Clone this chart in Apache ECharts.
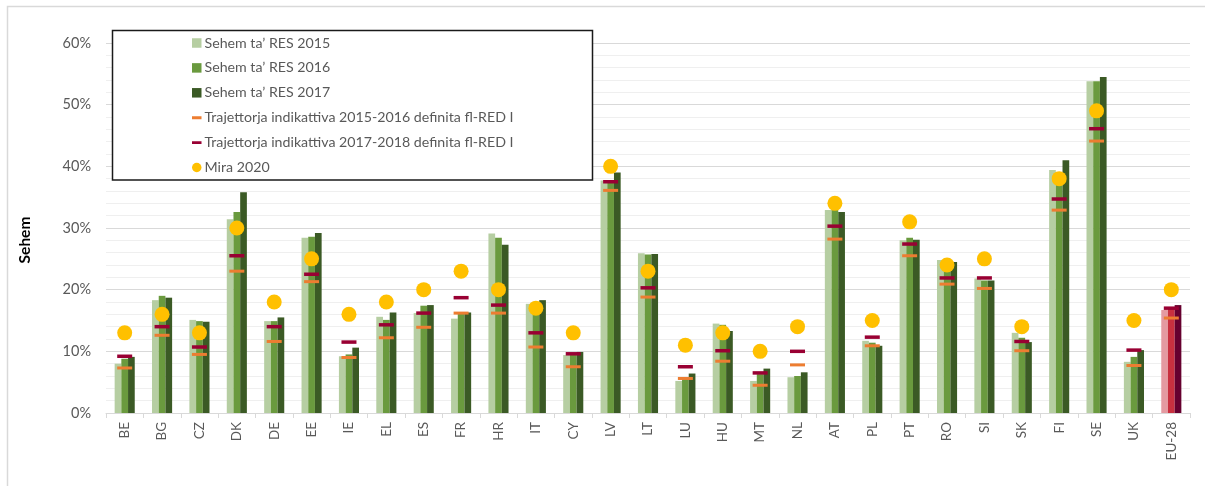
<!DOCTYPE html>
<html>
<head>
<meta charset="utf-8">
<script src="https://cdn.jsdelivr.net/npm/echarts@6/dist/echarts.min.js"></script>
<style>
html,body{margin:0;padding:0;background:#fff;}
#chart{width:1205px;height:486px;}
</style>
</head>
<body>
<div id="chart"></div>
<script>
const categories = ['BE','BG','CZ','DK','DE','EE','IE','EL','ES','FR','HR','IT','CY','LV','LT','LU','HU','MT','NL','AT','PL','PT','RO','SI','SK','FI','SE','UK','EU-28'];
const res2015 = [8.0, 18.3, 15.1, 31.4, 14.9, 28.4, 9.2, 15.6, 16.2, 15.3, 29.1, 17.7, 9.4, 37.7, 25.9, 5.2, 14.5, 5.2, 5.8, 32.9, 11.7, 28.0, 24.8, 21.8, 13.0, 39.4, 53.8, 8.3, 16.7];
const res2016 = [8.8, 19.0, 14.9, 32.6, 14.9, 28.6, 9.5, 15.1, 17.4, 16.2, 28.4, 17.7, 9.6, 37.4, 25.7, 5.5, 14.3, 6.3, 6.0, 33.1, 11.4, 28.4, 25.0, 21.5, 12.2, 39.0, 53.8, 9.1, 17.0];
const res2017 = [9.1, 18.7, 14.8, 35.8, 15.5, 29.2, 10.6, 16.3, 17.5, 16.3, 27.3, 18.3, 9.9, 39.0, 25.8, 6.4, 13.3, 7.2, 6.6, 32.6, 10.9, 28.1, 24.5, 21.5, 11.5, 41.0, 54.5, 10.2, 17.5];
const traj1516 = [7.3, 12.6, 9.5, 23.0, 11.6, 21.3, 9.0, 12.2, 13.9, 16.2, 16.2, 10.7, 7.5, 36.1, 18.8, 5.6, 8.4, 4.5, 7.8, 28.2, 10.9, 25.5, 20.9, 20.2, 10.1, 32.9, 44.1, 7.7, 15.4];
const traj1718 = [9.2, 14.0, 10.7, 25.5, 14.0, 22.5, 11.5, 14.3, 16.2, 18.7, 17.5, 13.0, 9.6, 37.5, 20.3, 7.5, 10.1, 6.5, 10.0, 30.3, 12.3, 27.4, 21.9, 21.9, 11.6, 34.7, 46.1, 10.2, 17.0];
const target2020 = [13, 16, 13, 30, 18, 25, 16, 18, 20, 23, 20, 17, 13, 40, 23, 11, 13, 10, 14, 34, 15, 31, 24, 25, 14, 38, 49, 15, 20];
const seriesNames = ['Sehem ta’ RES 2015','Sehem ta’ RES 2016','Sehem ta’ RES 2017','Trajettorja indikattiva 2015-2016 definita fl-RED I','Trajettorja indikattiva 2017-2018 definita fl-RED I','Mira 2020'];

const greens = ['#b6cea2','#6a9a3e','#3b5a25'];
const reds = ['#e49aa1','#c8303f','#66002f'];
const euIdx = categories.indexOf('EU-28');

function barData(arr, k) {
  return arr.map((v, i) => i === euIdx ? {value: v, itemStyle: {color: reds[k]}} : v);
}

const dashIcon = 'path://M0,0h0.01v0.01h-0.01z M0,3.6h10v3h-10z M9.99,9.99h0.01v0.01h-0.01z';
const labelFont = 'Lato, "Liberation Sans", sans-serif';

const chart = echarts.init(document.getElementById('chart'), null, {renderer: 'canvas'});
const barCommon = {type: 'bar', barWidth: 6.7, barGap: '0%', silent: true, z: 2};
chart.setOption({
  animation: false,
  grid: {left: 106, right: 15, top: 43, bottom: 73, containLabel: false},
  graphic: [
    {type: 'rect', z: 1, silent: true, shape: {x: 7.5, y: 6.5, width: 1212, height: 500},
     style: {fill: 'none', stroke: '#d9d9d9', lineWidth: 1.5}},
    {type: 'rect', z: 3, silent: true, shape: {x: 112.5, y: 30.5, width: 480, height: 149.5},
     style: {fill: '#ffffff', stroke: '#1a1a1a', lineWidth: 1.5}},
    {type: 'text', z: 3, silent: true, x: 25, y: 240, rotation: Math.PI / 2,
     style: {text: 'Sehem', fill: '#000000', font: 'bold 15.5px ' + labelFont, align: 'center', verticalAlign: 'middle'}}
  ],
  legend: {
    orient: 'vertical', left: 192, top: 35.5, padding: 0, z: 4,
    itemWidth: 9.5, itemHeight: 9.5, itemGap: 9.9,
    selectedMode: false,
    textStyle: {color: '#595959', fontSize: 14.2, fontFamily: labelFont, lineHeight: 15, padding: [0, 0, 0, -2]},
    data: [
      {name: seriesNames[0], icon: 'rect'},
      {name: seriesNames[1], icon: 'rect'},
      {name: seriesNames[2], icon: 'rect'},
      {name: seriesNames[3], icon: dashIcon},
      {name: seriesNames[4], icon: dashIcon},
      {name: seriesNames[5], icon: 'circle'}
    ]
  },
  xAxis: {
    type: 'category', data: categories,
    axisLine: {lineStyle: {color: '#d9d9d9', width: 1}},
    axisTick: {show: true, length: 5, lineStyle: {color: '#d9d9d9'}, interval: 0},
    axisLabel: {interval: 0, rotate: 90, margin: 9, color: '#595959', fontSize: 13.5, fontFamily: labelFont},
    splitLine: {show: false}
  },
  yAxis: {
    type: 'value', min: 0, max: 60, interval: 10,
    axisLine: {show: false}, axisTick: {show: false},
    axisLabel: {formatter: '{value}%', color: '#595959', fontSize: 14.5, margin: 15, fontFamily: labelFont},
    splitLine: {lineStyle: {color: '#d9d9d9', width: 1}},
    minorTick: {show: false, splitNumber: 5},
    minorSplitLine: {show: true, lineStyle: {color: '#efefef', width: 1}}
  },
  series: [
    Object.assign({}, barCommon, {name: seriesNames[0], data: barData(res2015, 0), itemStyle: {color: greens[0]}}),
    Object.assign({}, barCommon, {name: seriesNames[1], data: barData(res2016, 1), itemStyle: {color: greens[1]}}),
    Object.assign({}, barCommon, {name: seriesNames[2], data: barData(res2017, 2), itemStyle: {color: greens[2]}}),
    {type: 'scatter', name: seriesNames[3], data: traj1516, symbol: 'rect', symbolSize: [15, 3], silent: true, z: 5,
     itemStyle: {color: '#ed7d31', opacity: 1}},
    {type: 'scatter', name: seriesNames[4], data: traj1718, symbol: 'rect', symbolSize: [15, 3.5], silent: true, z: 6,
     itemStyle: {color: '#990033', opacity: 1}},
    {type: 'scatter', name: seriesNames[5], data: target2020, symbol: 'circle', symbolSize: 15, silent: true, z: 7,
     itemStyle: {color: '#ffc000', opacity: 1}}
  ]
});
</script>
</body>
</html>
